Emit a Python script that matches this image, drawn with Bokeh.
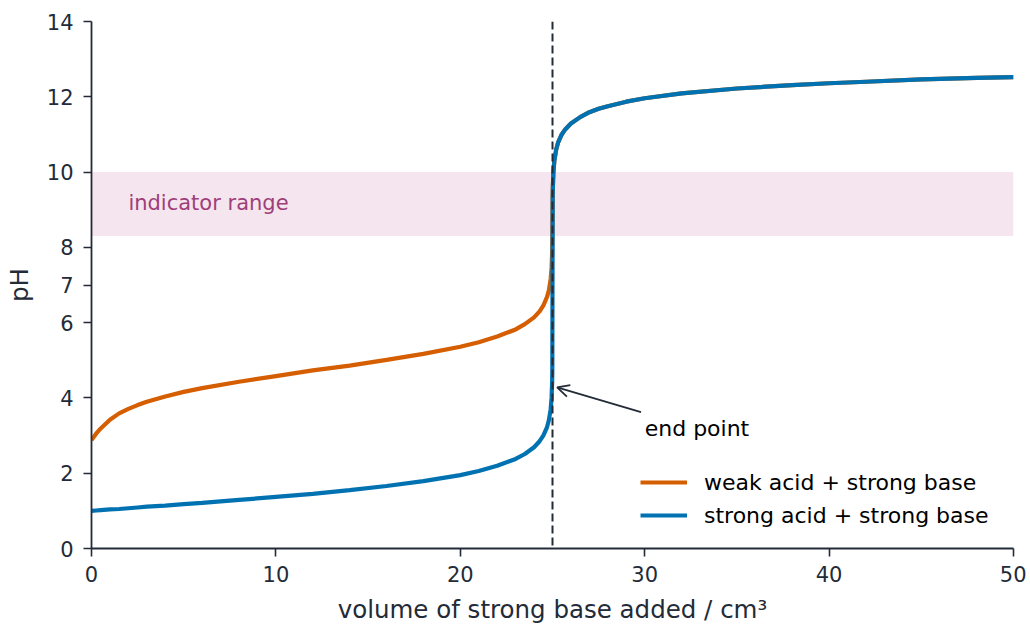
from bokeh.plotting import figure
from bokeh.models import (Span, BoxAnnotation, Arrow, OpenHead, Label, Legend,
                          LegendItem, FixedTicker, Range1d)
from bokeh.embed import file_html
from bokeh.resources import INLINE

# volume of strong base added / cm3
volume = [0, 0.25, 0.5, 1, 1.5, 2, 2.5, 3, 4, 5, 6, 8, 10, 12, 14, 16, 18, 20,
          21, 22, 23, 23.5, 24, 24.3, 24.5, 24.7, 24.8, 24.9, 24.95, 24.98,
          24.99, 25.0, 25.01, 25.02, 25.05, 25.1, 25.2, 25.3, 25.5, 25.7, 26,
          26.5, 27, 27.5, 28, 29, 30, 32, 35, 38, 40, 42, 45, 48, 50]

# pH, strong acid + strong base
ph_strong = [1.00, 1.01, 1.02, 1.04, 1.05, 1.07, 1.09, 1.11, 1.14, 1.18, 1.21,
             1.29, 1.37, 1.45, 1.55, 1.66, 1.79, 1.95, 2.06, 2.20, 2.38, 2.51,
             2.69, 2.85, 3.00, 3.22, 3.40, 3.70, 4.00, 4.40, 4.70, 7.00, 9.30,
             9.60, 10.00, 10.30, 10.60, 10.78, 11.00, 11.14, 11.29, 11.46,
             11.59, 11.68, 11.75, 11.87, 11.96, 12.09, 12.22, 12.31, 12.36,
             12.40, 12.46, 12.50, 12.52]

# pH, weak acid + strong base
ph_weak = [2.88, 3.05, 3.19, 3.42, 3.59, 3.71, 3.81, 3.90, 4.04, 4.16, 4.26,
           4.43, 4.58, 4.73, 4.86, 5.01, 5.17, 5.36, 5.48, 5.63, 5.82, 5.96,
           6.14, 6.30, 6.45, 6.68, 6.85, 7.16, 7.46, 7.86, 8.16, 8.73, 9.35,
           9.62, 10.00, 10.30, 10.60, 10.78, 11.00, 11.14, 11.29, 11.46,
           11.59, 11.68, 11.75, 11.87, 11.96, 12.09, 12.22, 12.31, 12.36,
           12.40, 12.46, 12.50, 12.52]

y_ticks = [0, 2, 4, 6, 7, 8, 10, 12, 14]
x_ticks = [0, 10, 20, 30, 40, 50]

end_point_volume = 25
indicator_low, indicator_high = 8.3, 10.0

DARK = "#232b38"
ORANGE = "#d55e00"
BLUE = "#0072b2"
FONT = "DejaVu Sans"

p = figure(width=1026, height=626, output_backend="svg", toolbar_location=None,
           x_range=Range1d(0, 50), y_range=Range1d(0, 14),
           min_border_left=91, min_border_right=13, min_border_top=21,
           min_border_bottom=78)
p.outline_line_color = None
p.xgrid.visible = False
p.ygrid.visible = False

for ax in (p.xaxis[0], p.yaxis[0]):
    ax.axis_line_color = DARK
    ax.axis_line_width = 1.8
    ax.major_tick_line_color = DARK
    ax.major_tick_line_width = 1.6
    ax.major_tick_out = 8
    ax.major_tick_in = 0
    ax.minor_tick_line_color = None
    ax.major_label_text_font = FONT
    ax.major_label_text_font_size = "21px"
    ax.major_label_text_color = DARK
    ax.axis_label_text_font = FONT
    ax.axis_label_text_font_size = "24.5px"
    ax.axis_label_text_font_style = "normal"
    ax.axis_label_text_color = DARK

p.xaxis.ticker = FixedTicker(ticks=x_ticks)
p.yaxis.ticker = FixedTicker(ticks=y_ticks)
p.xaxis.axis_label = "volume of strong base added / cm³"
p.yaxis.axis_label = "pH"
p.xaxis.major_label_standoff = 9
p.yaxis.major_label_standoff = 10
p.xaxis.axis_label_standoff = 10
p.yaxis.axis_label_standoff = 10

band = BoxAnnotation(bottom=indicator_low, top=indicator_high,
                     fill_color="#f5e5ee", fill_alpha=1.0, line_color=None,
                     level="underlay")
p.add_layout(band)

p.add_layout(Label(x=2, y=9.17, text="indicator range", text_font=FONT,
                   text_font_size="21px", text_color="#9e3f7a",
                   text_baseline="middle"))

r_weak = p.line(volume, ph_weak, line_color=ORANGE, line_width=4.2)
r_strong = p.line(volume, ph_strong, line_color=BLUE, line_width=4.2)

p.add_layout(Span(location=end_point_volume, dimension="height",
                  line_color=DARK, line_width=2, line_dash="8 4"))

p.add_layout(Arrow(end=OpenHead(size=12, line_color=DARK, line_width=1.8),
                   x_start=29.8, y_start=3.62, x_end=25.25, y_end=4.28,
                   line_color=DARK, line_width=1.8))
p.add_layout(Label(x=30, y=3.2, text="end point", text_font=FONT,
                   text_font_size="22px", text_color="black",
                   text_baseline="middle"))

legend = Legend(items=[LegendItem(label="weak acid + strong base", renderers=[r_weak]),
                       LegendItem(label="strong acid + strong base", renderers=[r_strong])],
                location=(549, 20), border_line_color=None,
                background_fill_alpha=0, label_text_font=FONT,
                label_text_font_size="22px", label_text_color="black",
                glyph_width=47, label_standoff=17, spacing=7, label_height=26,
                padding=4, margin=0)
p.add_layout(legend)

open("out.html", "w").write(file_html(p, INLINE))
